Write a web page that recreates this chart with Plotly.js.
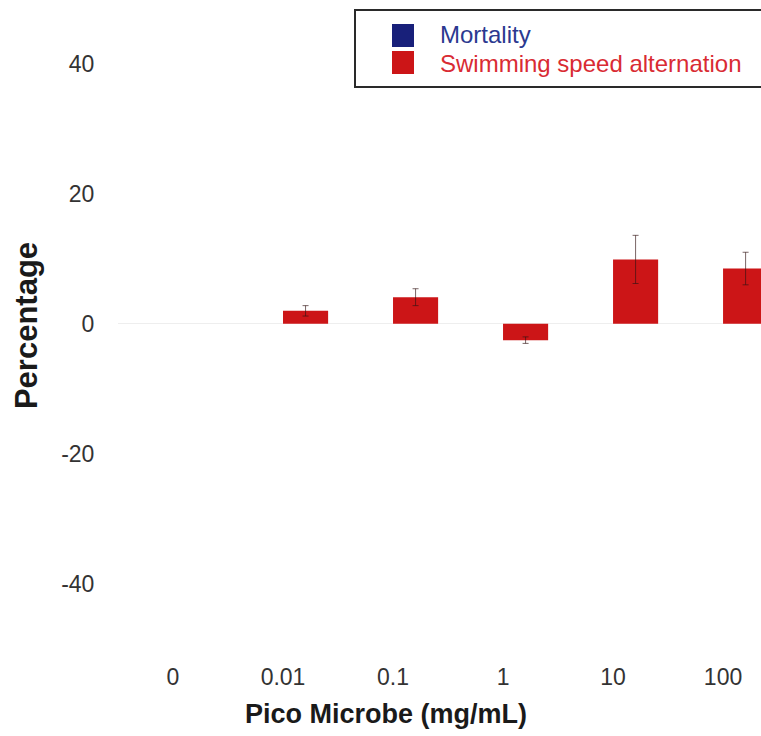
<!DOCTYPE html>
<html>
<head>
<meta charset="utf-8">
<script src="https://cdn.plot.ly/plotly-3.0.1.min.js"></script>
<style>html,body{margin:0;padding:0;background:#fff;}</style>
</head>
<body>
<div id="chart" style="width:761px;height:736px;"></div>
<script>
const categories = ['0', '0.01', '0.1', '1', '10', '100'];
const mortality = [0, 0, 0, 0, 0, 0];
const swimming = [null, 2.0, 4.1, -2.5, 9.9, 8.5];
const swimmingErr = [null, 0.8, 1.3, 0.5, 3.7, 2.5];
const yTickVals = [-40, -20, 0, 20, 40];
const yTickText = ['-40', '-20', '0', '20', '40'];
const seriesNames = ['Mortality', 'Swimming speed alternation'];
const seriesColors = ['#18207a', '#cc1517'];
const legendTextColors = ['#2b3990', '#d92b33'];
const xTitle = 'Pico Microbe (mg/mL)';
const yTitle = 'Percentage';

const traces = [
  {
    type: 'bar', x: categories, y: mortality, name: seriesNames[0],
    marker: {color: seriesColors[0]}, showlegend: false
  },
  {
    type: 'bar', x: categories, y: swimming, name: seriesNames[1],
    marker: {color: seriesColors[1]}, showlegend: false,
    error_y: {type: 'data', array: swimmingErr, visible: true, thickness: 1, width: 3, color: 'rgba(50,20,20,0.65)'}
  }
];

// plot area: x 118..761 px, y 0..651 px
const px = v => (v - 118) / 643;
const py = v => (651 - v) / 651;

const layout = {
  width: 761, height: 736,
  margin: {l: 118, r: 0, t: 0, b: 85},
  paper_bgcolor: '#ffffff', plot_bgcolor: '#ffffff',
  font: {family: 'Liberation Sans, Arial, sans-serif', color: '#333333'},
  barmode: 'group', bargap: 0.18, bargroupgap: 0,
  showlegend: false,
  xaxis: {
    type: 'category', range: [-0.5, 5.345],
    showgrid: false, zeroline: false, showline: false,
    ticks: 'outside', ticklen: 5, tickcolor: 'rgba(0,0,0,0)',
    tickfont: {size: 23, color: '#333333'},
    automargin: false
  },
  yaxis: {
    range: [-50.25, 49.75], tickvals: yTickVals, ticktext: yTickText,
    showgrid: false, zeroline: true, zerolinecolor: '#eeeeee', zerolinewidth: 1, showline: false,
    ticks: 'outside', ticklen: 18, tickcolor: 'rgba(0,0,0,0)',
    tickfont: {size: 23, color: '#333333'},
    title: {text: yTitle, font: {size: 31, color: '#1a1a1a', family: 'Liberation Sans, Arial, sans-serif', weight: 'bold'}, standoff: 14},
    automargin: false
  },
  shapes: [
    {type: 'rect', xref: 'paper', yref: 'paper', x0: px(355), x1: 1.2, y0: py(87), y1: py(10),
     line: {color: '#2a2a2a', width: 2}, fillcolor: '#ffffff', layer: 'above'},
    {type: 'rect', xref: 'paper', yref: 'paper', x0: px(392), x1: px(414), y0: py(47), y1: py(24),
     line: {width: 0}, fillcolor: seriesColors[0], layer: 'above'},
    {type: 'rect', xref: 'paper', yref: 'paper', x0: px(392), x1: px(414), y0: py(74), y1: py(51),
     line: {width: 0}, fillcolor: seriesColors[1], layer: 'above'}
  ],
  annotations: [
    {xref: 'paper', yref: 'paper', x: px(439), y: py(35), xanchor: 'left', yanchor: 'middle',
     text: seriesNames[0], showarrow: false, borderpad: 0, font: {size: 24, color: legendTextColors[0]}},
    {xref: 'paper', yref: 'paper', x: px(439), y: py(63), xanchor: 'left', yanchor: 'middle',
     text: seriesNames[1], showarrow: false, borderpad: 0, font: {size: 24, color: legendTextColors[1]}},
    {xref: 'paper', yref: 'paper', x: px(386), y: py(714), xanchor: 'center', yanchor: 'middle',
     text: xTitle, showarrow: false,
     font: {size: 27, color: '#1a1a1a', family: 'Liberation Sans, Arial, sans-serif', weight: 'bold'}}
  ]
};

Plotly.newPlot('chart', traces, layout, {displayModeBar: false, staticPlot: true});
</script>
</body>
</html>
